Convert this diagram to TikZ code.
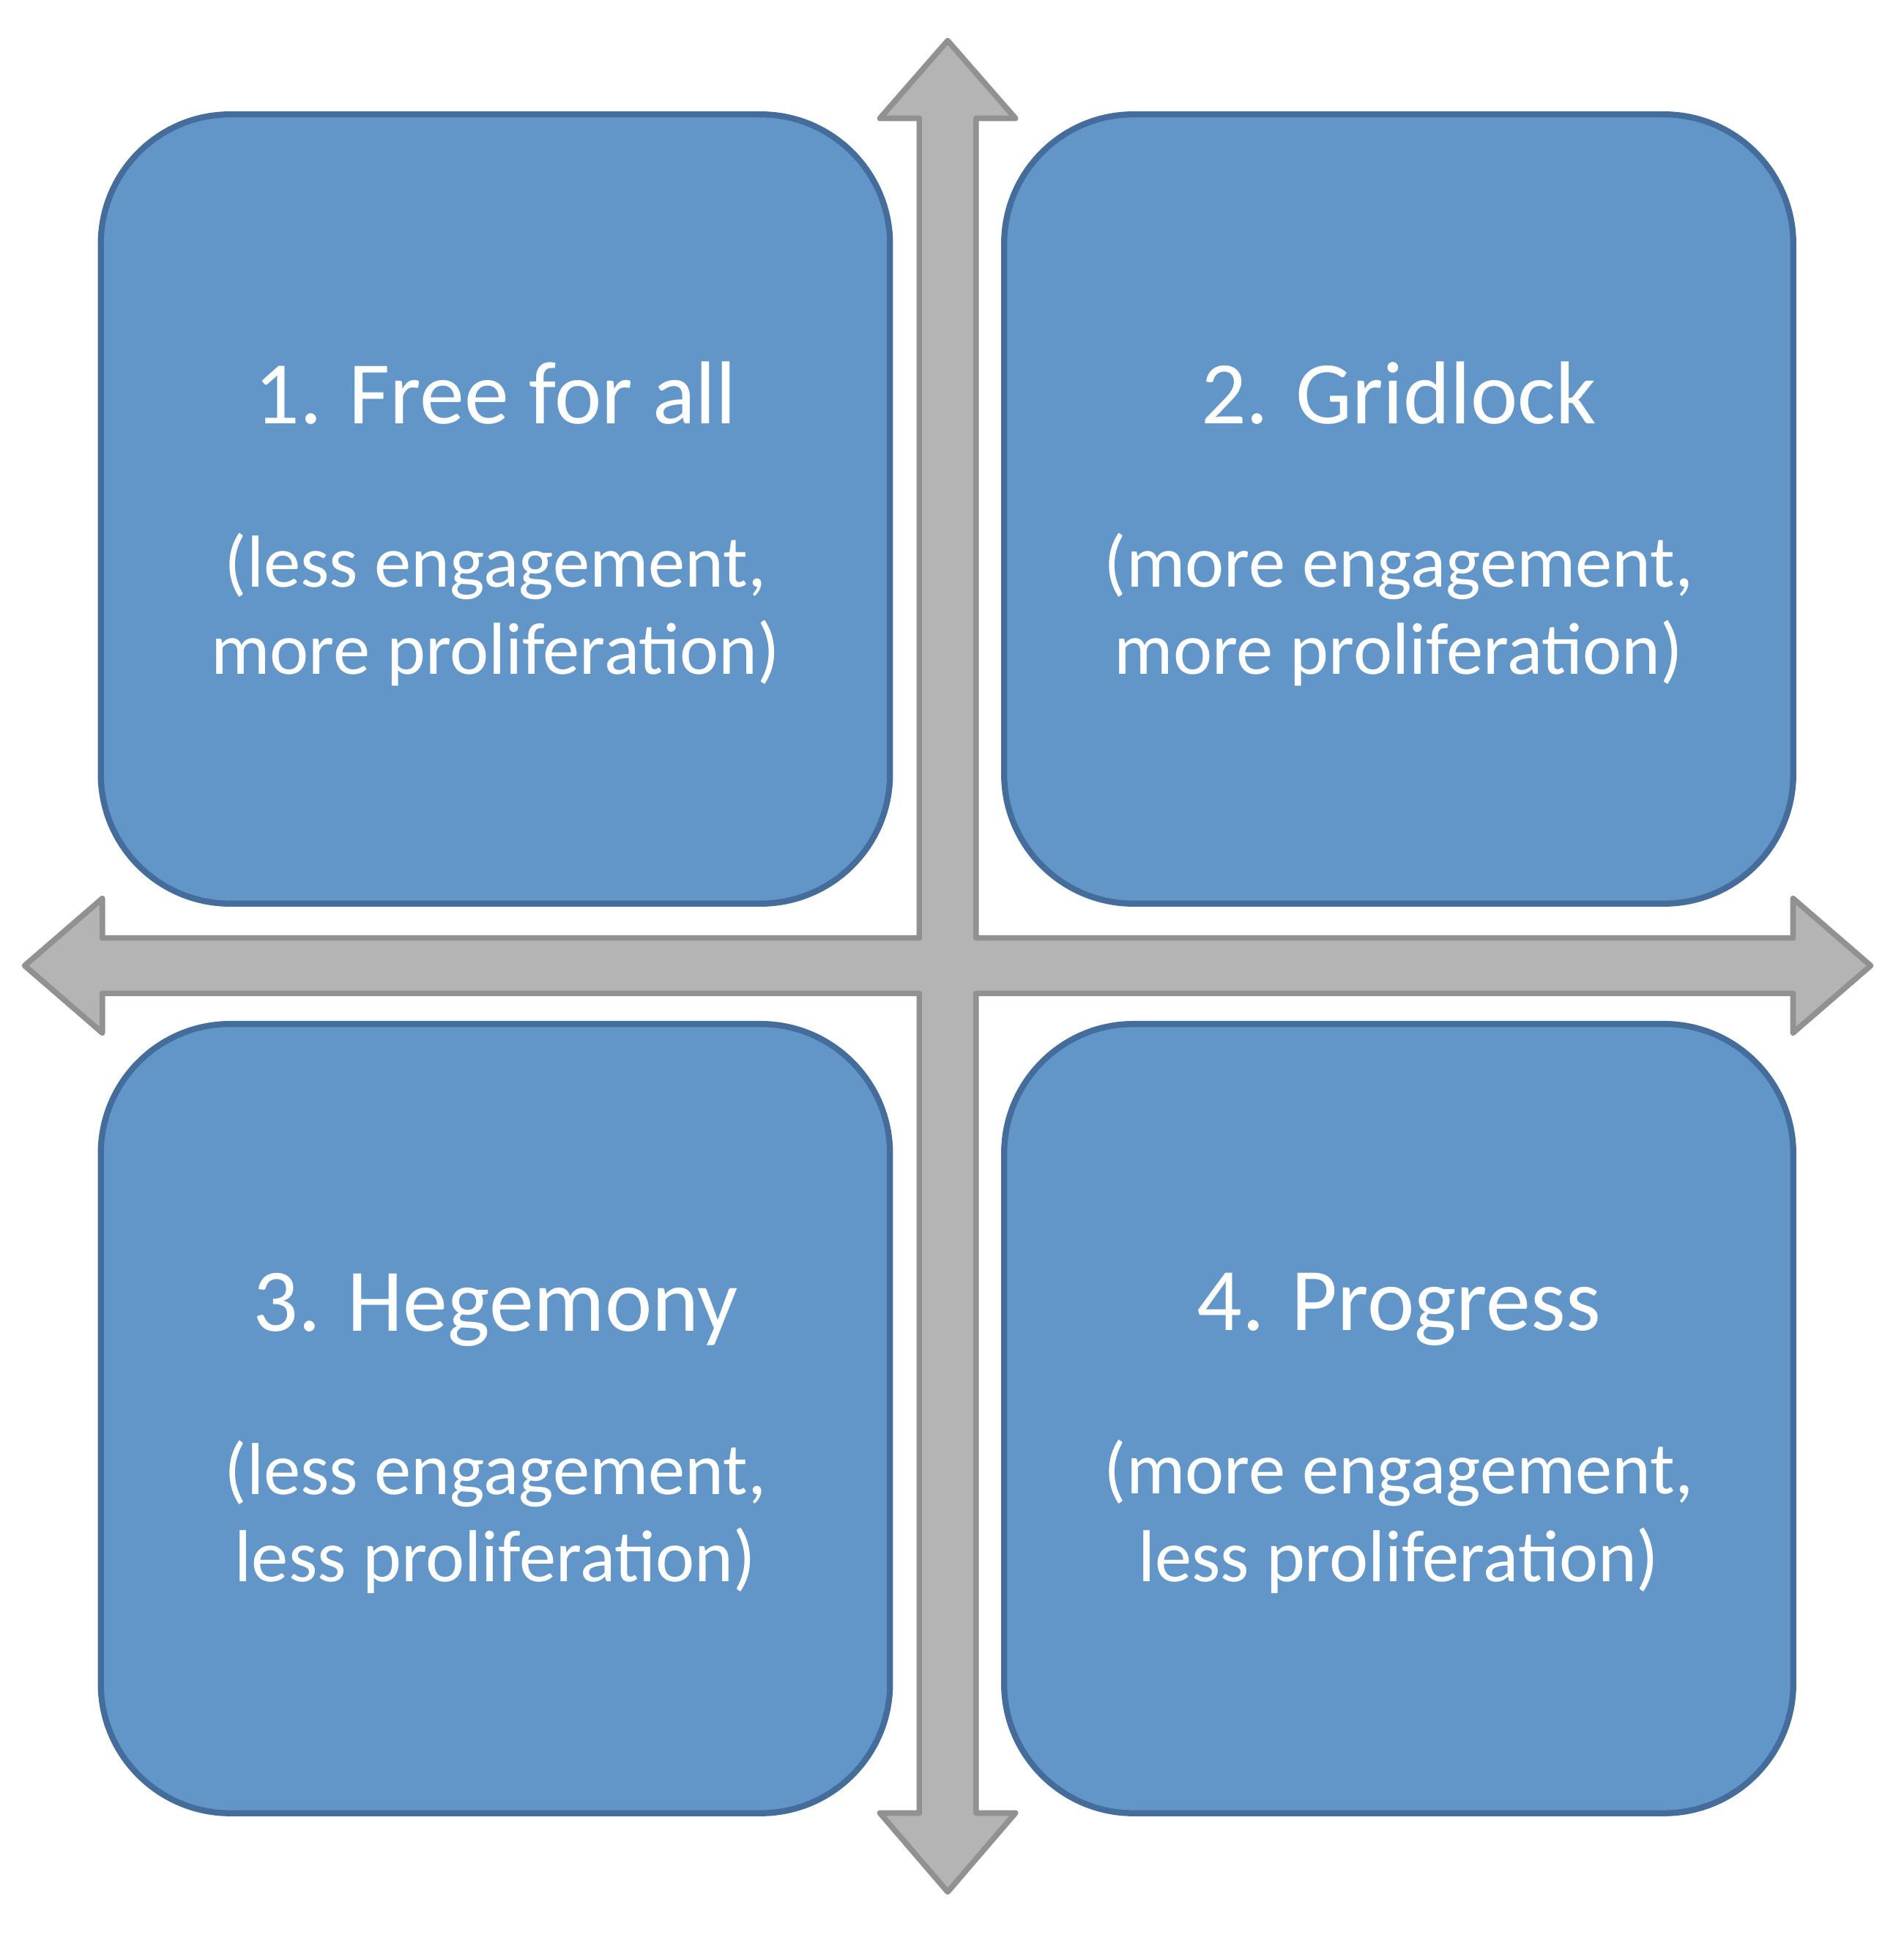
\documentclass[tikz,border=0pt]{standalone}
\usepackage{fontspec}
\setmainfont{Carlito}
\usetikzlibrary{positioning}

\definecolor{quadfill}{RGB}{98,150,200}
\definecolor{quadline}{RGB}{69,109,155}
\definecolor{axisfill}{RGB}{180,180,180}
\definecolor{axisline}{RGB}{145,145,145}

\begin{document}
\begin{tikzpicture}[
    x=0.01cm, y=-0.01cm,
    % Define styles
    quad/.style={rectangle, draw=quadline, fill=quadfill, line width=1.4pt, rounded corners=1.05cm, minimum width=6.4cm, minimum height=6.4cm},
    caption/.style={align=center, text=white, font=\fontsize{17}{20.2}\selectfont},
    axis/.style={draw=axisline, fill=axisfill, line width=1.3pt, line join=round}
]

% Canvas
\useasboundingbox (0,0) rectangle (1545,1570);

% Axes (one block arrow with four heads)
\draw[axis] (769,33) -- (824,96) -- (792,96) -- (792,761) -- (1455,761) -- (1455,729)
    -- (1518,783.5) -- (1455,838) -- (1455,806) -- (792,806) -- (792,1471) -- (824,1471)
    -- (769,1535) -- (714,1471) -- (746,1471) -- (746,806) -- (83,806) -- (83,838)
    -- (20,783.5) -- (83,729) -- (83,761) -- (746,761) -- (746,96) -- (714,96) -- cycle;

% Quadrants
\node[quad] (free) at (402,413) {};
\node[quad] (gridlock) at (1135,413) {};
\node[quad] (hegemony) at (402,1151) {};
\node[quad] (progress) at (1135,1151) {};

% Texts
\node[caption, yshift=-0.12cm] (free-text) at (free.center)
    {{\fontsize{20.6}{20.2}\selectfont 1. Free for all}\\[17.5pt](less engagement,\\more proliferation)};
\node[caption, yshift=-0.12cm] (gridlock-text) at (gridlock.center)
    {{\fontsize{20.6}{20.2}\selectfont 2. Gridlock}\\[17.5pt](more engagement,\\more proliferation)};
\node[caption, yshift=-0.12cm] (hegemony-text) at (hegemony.center)
    {{\fontsize{20.6}{20.2}\selectfont 3. Hegemony}\\[17.5pt](less engagement,\\less proliferation)};
\node[caption, yshift=-0.12cm] (progress-text) at (progress.center)
    {{\fontsize{20.6}{20.2}\selectfont 4. Progress}\\[17.5pt](more engagement,\\less proliferation)};

\end{tikzpicture}
\end{document}
